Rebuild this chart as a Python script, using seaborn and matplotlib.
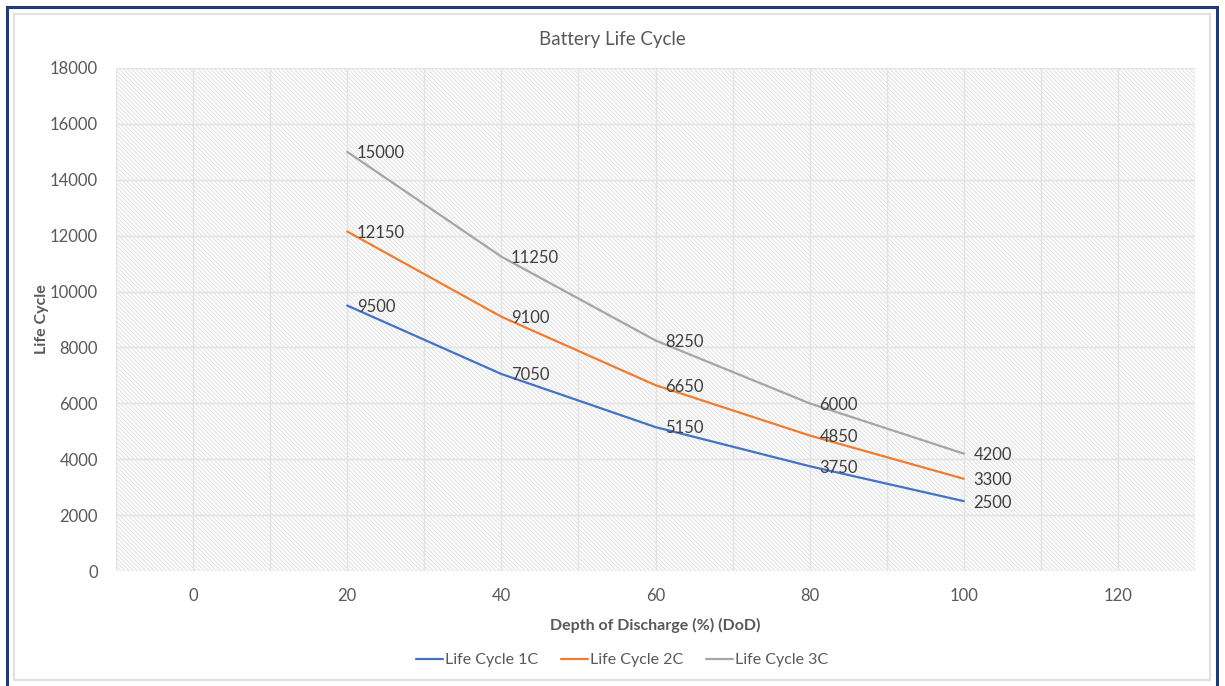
import matplotlib
matplotlib.use("Agg")
import matplotlib.pyplot as plt
from matplotlib.patches import Rectangle
import seaborn as sns
import pandas as pd

# ---- data ----
dod = [20, 40, 60, 80, 100]
life_1c = [9500, 7050, 5150, 3750, 2500]
life_2c = [12150, 9100, 6650, 4850, 3300]
life_3c = [15000, 11250, 8250, 6000, 4200]
series_names = ["Life Cycle 1C", "Life Cycle 2C", "Life Cycle 3C"]
x_ticks = [0, 20, 40, 60, 80, 100, 120]
y_ticks = [0, 2000, 4000, 6000, 8000, 10000, 12000, 14000, 16000, 18000]

rows = []
for name, vals in zip(series_names, [life_1c, life_2c, life_3c]):
    for x, v in zip(dod, vals):
        rows.append({"DoD": x, "Life": v, "Series": name})
df = pd.DataFrame(rows)

sns.set_theme(style="white")
plt.rcParams["font.family"] = ["Lato", "DejaVu Sans"]
plt.rcParams["hatch.linewidth"] = 0.5

W, H = 1225, 686
fig = plt.figure(figsize=(W / 100, H / 100), dpi=100)
ax = fig.add_axes([116 / W, 1 - 571 / H, (1195 - 116) / W, (571 - 68) / H])

palette = {"Life Cycle 1C": "#4472C4", "Life Cycle 2C": "#ED7D31", "Life Cycle 3C": "#A5A5A5"}

# hatched plot-area background
bg = Rectangle((0, 0), 1, 1, transform=ax.transAxes, facecolor="#FBFBFB",
               edgecolor="#DCDCDC", hatch="\\" * 8, linewidth=0, zorder=0)
ax.add_patch(bg)

sns.lineplot(data=df, x="DoD", y="Life", hue="Series", palette=palette,
             linewidth=1.6, ax=ax, legend=True, zorder=3)

# data labels
for name, vals in zip(series_names, [life_1c, life_2c, life_3c]):
    for x, v in zip(dod, vals):
        ax.annotate(f"{v}", (x, v), xytext=(7, -1), textcoords="offset points",
                    ha="left", va="center", fontsize=12, color="#404040", zorder=4)

ax.set_xlim(-10, 130)
ax.set_ylim(0, 18000)
ax.set_xticks(x_ticks)
ax.set_xticks(list(range(-10, 131, 10)), minor=True)
ax.set_yticks(y_ticks)
ax.set_axisbelow(True)
ax.grid(True, which="both", axis="x", color="#E3E3E3", linewidth=1.0)
ax.grid(True, which="major", axis="y", color="#E3E3E3", linewidth=1.0)
for s in ax.spines.values():
    s.set_visible(False)
ax.tick_params(axis="both", which="both", length=0, labelsize=12, labelcolor="#595959")
ax.tick_params(axis="x", pad=12)
ax.tick_params(axis="y", pad=13)

ax.set_xlabel("Depth of Discharge (%) (DoD)", fontsize=11.5, fontweight="bold",
              color="#595959", labelpad=10)
ax.set_ylabel("Life Cycle", fontsize=11.5, fontweight="bold", color="#595959", labelpad=10)
ax.yaxis.set_label_coords(-0.062, 0.5)

fig.text(0.5, 1 - 40 / H, "Battery Life Cycle", ha="center", va="center",
         fontsize=13.5, color="#595959")

handles, labels = ax.get_legend_handles_labels()
ax.get_legend().remove()
fig.legend(handles, labels, loc="center", bbox_to_anchor=(622 / W, 1 - 660 / H), ncol=3,
           frameon=False, fontsize=11.5, handlelength=1.7, handletextpad=0.15,
           columnspacing=1.4, labelcolor="#595959")

# chart borders
fig.patches.append(Rectangle((14 / W, 1 - 680 / H), (1210 - 14) / W, (680 - 14) / H,
                             transform=fig.transFigure, fill=False,
                             edgecolor="#E0E0E0", linewidth=1.5))
fig.patches.append(Rectangle((7 / W, 1 - 700 / H), (1217 - 7) / W, (700 - 7) / H,
                             transform=fig.transFigure, fill=False,
                             edgecolor="#1F3A78", linewidth=2.2))

fig.savefig("out.png", dpi=100)
